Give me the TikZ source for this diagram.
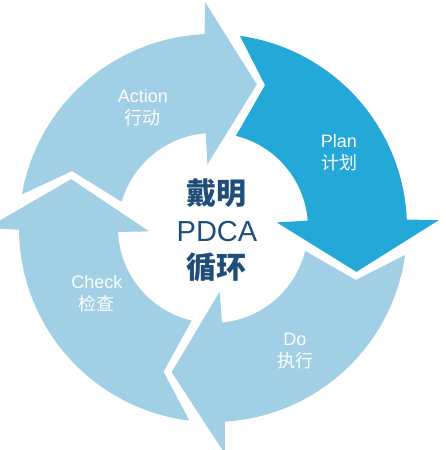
\documentclass[tikz,border=0pt]{standalone}
\usepackage{fontspec}
\setmainfont{Liberation Sans}
\newfontfamily\cjk{Noto Sans CJK SC}
\definecolor{lightarrow}{RGB}{160,207,230}
\definecolor{darkarrow}{RGB}{36,168,216}
\definecolor{navy}{RGB}{31,78,121}
\newcommand\Ro{194}
\newcommand\Ri{95}
% #1 head base angle, #2 previous head base angle, #3 colour
\newcommand\pdcashape[3]{%
  \fill[#3] (#2-10:\Ro) arc[start angle=#2-10, end angle=#1+0.5, radius=\Ro]
    -- (#1:226) -- (#1-19:150) -- (#1+3:64) -- (#1+2.4:\Ri)
    arc[start angle=#1+2.4, end angle=#2-16, radius=\Ri]
    -- (#2-22:152) -- cycle;}
\begin{document}
\begin{tikzpicture}[x=1pt,y=1pt,
  steplabel/.style={text=white, align=center, inner sep=0pt,
    font=\fontsize{18}{22}\selectfont},
  centerlabel/.style={text=navy, align=center, inner sep=0pt,
    font=\fontsize{30}{37}\selectfont}]
\useasboundingbox (-213,-222) rectangle (232,228);
\clip (-213,-222) rectangle (232,228);
\pdcashape{92}{180}{lightarrow}
\pdcashape{2}{92}{darkarrow}
\pdcashape{-87}{2}{lightarrow}
\pdcashape{-180}{-87}{lightarrow}
\node[steplabel] (act) at (-70,120.5) {Action\\{\cjk 行动}};
\node[steplabel] (plan) at (126,75.5) {Plan\\{\cjk 计划}};
\node[steplabel] (chk) at (-116,-66) {Check\\{\cjk 检查}};
\node[steplabel] (do) at (82,-123) {Do\\{\cjk 执行}};
\node[centerlabel] (mid) at (4,-2) {%
  {\cjk\bfseries 戴明}\\
  {\fontsize{29}{37}\selectfont PDCA}\\
  {\cjk\bfseries 循环}};
\end{tikzpicture}
\end{document}
